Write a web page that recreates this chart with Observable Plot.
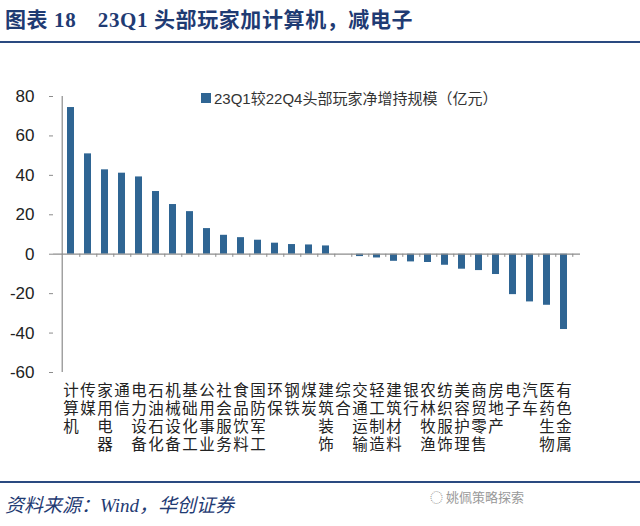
<!DOCTYPE html>
<html lang="zh-CN">
<head>
<meta charset="utf-8">
<script src="https://cdn.jsdelivr.net/npm/d3@7"></script>
<script src="https://cdn.jsdelivr.net/npm/@observablehq/plot@0.6"></script>
<style>
  html, body { margin: 0; padding: 0; background: #fff; }
  #page { position: relative; width: 640px; height: 526px; overflow: hidden; }
  #title { position: absolute; left: 5px; top: 3px; font-family: "Liberation Serif", "Noto Sans CJK SC", serif; font-weight: bold; font-size: 21px; color: #1F3B73; white-space: nowrap; letter-spacing: 0.6px; }
  #topline { position: absolute; left: 0; top: 41px; width: 640px; height: 2px; background: #2A4A80; }
  #chart { position: absolute; left: 0; top: 60px; }
  #legend { position: absolute; left: 201px; top: 87px; font-family: "Liberation Sans", "Noto Sans CJK SC", sans-serif; font-size: 15px; color: #333; white-space: nowrap; display: flex; align-items: center; }
  #legend .sw { width: 10px; height: 10px; background: #2F6593; margin-right: 3px; }
  #botline { position: absolute; left: 0; top: 481px; width: 640px; height: 2px; background: #2A4A80; }
  #source { position: absolute; left: 5px; top: 490px; font-family: "Liberation Serif", "Noto Sans CJK SC", serif; font-style: italic; font-size: 19px; color: #1F3B73; white-space: nowrap; }
  #wm { position: absolute; left: 430px; top: 487px; font-family: "Noto Sans CJK SC", sans-serif; font-size: 13px; color: #999; white-space: nowrap; }
</style>
</head>
<body>
<div id="page">
  <div id="title">图表 18　23Q1 头部玩家加计算机，减电子</div>
  <div id="topline"></div>
  <div id="chart"></div>
  <div id="legend"><span class="sw"></span><span>23Q1较22Q4头部玩家净增持规模（亿元）</span></div>
  <div id="botline"></div>
  <div id="source">资料来源：Wind，华创证券</div>
  <div id="wm">◌ 姚佩策略探索</div>
</div>
<script>
const categories = ["计算机","传媒","家用电器","通信","电力设备","石油石化","机械设备","基础化工","公用事业","社会服务","食品饮料","国防军工","环保","钢铁","煤炭","建筑装饰","综合","交通运输","轻工制造","建筑材料","银行","农林牧渔","纺织服饰","美容护理","商贸零售","房地产","电子","汽车","医药生物","有色金属"];
const values = [74.4,50.9,42.8,41.1,39.2,31.8,25.2,21.6,13.0,9.6,8.4,7.1,5.6,4.9,4.7,4.2,0,-1.2,-1.9,-3.6,-3.9,-4.2,-5.6,-7.6,-8.3,-10.3,-20.5,-24.2,-25.9,-38.2];
const yTicks = [80,60,40,20,0,-20,-40,-60];

const data = categories.map((c, i) => ({cat: c, value: values[i]}));
// one entry per character of each category label (labels are written vertically)
const chars = categories.flatMap(c => c.split("").map((ch, row) => ({cat: c, ch, row})));

const W = 640, H = 410, ML = 53, MR = 60, MT = 36, MB = 98;
const step = (W - ML - MR) / categories.length;
const axisColor = "#8c8c8c";
const rowGap = 18.2, labelPad = 12;

const labelRows = [0, 1, 2, 3].map(r =>
  Plot.text(chars.filter(d => d.row === r), {
    x: "cat", text: "ch", frameAnchor: "bottom", lineAnchor: "top",
    dy: labelPad + r * rowGap, fontSize: 15.5,
    fontFamily: "Liberation Sans, Noto Sans CJK SC, sans-serif", fill: "#222"
  })
);

const chart = Plot.plot({
  width: W, height: H,
  marginLeft: ML, marginRight: MR, marginTop: MT, marginBottom: MB,
  x: {domain: categories, padding: 0.6, axis: null, label: null},
  y: {domain: [-60, 80], axis: null, label: null},
  style: {background: "#fff", color: "#222"},
  marks: [
    Plot.barY(data, {x: "cat", y: "value", fill: "#2F6593"}),
    Plot.ruleY([0], {stroke: axisColor, strokeWidth: 1.2}),
    Plot.ruleX([categories[0]], {y1: -60, y2: 80, dx: -step / 2, stroke: axisColor, strokeWidth: 1.2}),
    Plot.ruleX(categories, {y1: 0, y2: -1.6, dx: step / 2, stroke: axisColor}),
    Plot.axisY({ticks: yTicks, label: null, tickSize: 4, tickPadding: 15, stroke: axisColor, fontSize: 17, fontFamily: "Liberation Sans, Arial, sans-serif", fill: "#222",
      tickFormat: d => String(d)}),
    ...labelRows
  ]
});
document.getElementById("chart").appendChild(chart);
</script>
</body>
</html>
